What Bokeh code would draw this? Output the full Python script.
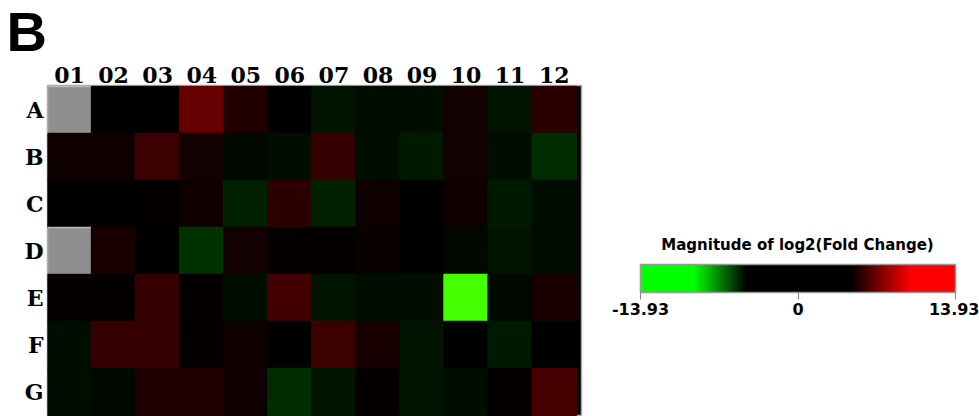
import numpy as np
from bokeh.plotting import figure
from bokeh.models import (ColumnDataSource, LinearColorMapper, ColorBar, FixedTicker,
                          Range1d, Label, CustomJSTickFormatter)
from bokeh.layouts import row, column
from bokeh.embed import file_html
from bokeh.resources import INLINE

# ---------------- data ----------------
columns = ["01", "02", "03", "04", "05", "06", "07", "08", "09", "10", "11", "12"]
rows = ["A", "B", "C", "D", "E", "F", "G"]
nan = float("nan")
row_A = [nan, 0.5, 0.8, 6.85, 5.39, 0.3, -4.96, -4.89, -4.89, 5.04, -4.97, 5.49]
row_B = [4.98, 4.98, 5.88, 5.04, -4.77, -4.89, 5.84, -4.81, -5.06, 5.11, -4.87, -5.40]
row_C = [1.2, 1.5, 4.77, 4.90, -5.17, 5.62, -5.17, 4.94, 0.4, 4.94, -5.10, -4.87]
row_D = [nan, 5.20, 0.2, -5.50, 5.11, 4.70, 4.77, 4.87, 0.6, -4.74, -4.92, -4.81]
row_E = [4.70, 4.70, 5.84, 4.70, -4.89, 6.05, -4.96, -4.81, -4.85, -13.93, -4.74, 5.20]
row_F = [-4.83, 5.84, 5.84, 4.70, 4.98, 1.0, 5.88, 5.16, -4.92, -4.65, -5.10, 0.3]
row_G = [-4.85, -4.77, 5.28, 5.28, 4.94, -5.40, -4.92, 4.70, -4.99, -4.85, 4.70, 6.17]
row_values = [row_A, row_B, row_C, row_D, row_E, row_F, row_G]
scale_low, scale_high = -13.93, 13.93
scale_ticks = [-13.93, 0, 13.93]
scale_title = "Magnitude of log2(Fold Change)"
panel_label = "B"

# ---------------- palette (green - black - red) ----------------
N = 256
palette = []
for i in range(N):
    t = (i + 0.5) / N
    ir = min(max((t - 0.667) / (0.86 - 0.667), 0), 1)
    ig = min(max((0.335 - t) / (0.335 - 0.17), 0), 1)
    palette.append("#%02x%02x%02x" % (int(round(255 * ir)), int(round(255 * ig)), 0))
palette[0] = "#44ff00"

xs, ys, vs = [], [], []
for ri, vals in enumerate(row_values):
    for ci, v in enumerate(vals):
        xs.append(ci)
        ys.append(len(rows) - 1 - ri)
        vs.append(v)
source = ColumnDataSource(dict(x=xs, y=ys, v=np.array(vs, dtype=float)))

fill_mapper = LinearColorMapper(palette=palette, low=scale_low, high=scale_high, nan_color="#8e8e8e")
line_mapper = LinearColorMapper(palette=palette, low=scale_low, high=scale_high, nan_color="#b9b9b9")

# ---------------- panel letter strip ----------------
W = 979
H = 416
strip_h = 60
s = figure(width=W, height=strip_h, output_backend="svg", toolbar_location=None,
           x_range=Range1d(0, 1), y_range=Range1d(0, 1),
           x_axis_type=None, y_axis_type=None, min_border=0)
s.frame_align = False
s.grid.visible = False
s.outline_line_color = None
s.add_layout(Label(x=6, y=29, x_units="screen", y_units="screen", text=panel_label,
                   text_font="Liberation Sans", text_font_style="bold",
                   text_font_size="56px", text_baseline="alphabetic", text_color="black"))

# ---------------- heatmap figure ----------------
top = 85 - strip_h
row_h = 47.0
hm_h = H - strip_h
frame_h = hm_h - top
y_end = len(rows) - 0.5 + 1 / row_h
y_start = y_end - frame_h / row_h

p = figure(width=598, height=hm_h, output_backend="svg", toolbar_location=None,
           x_range=Range1d(-0.5, 11.62), y_range=Range1d(y_start, y_end),
           x_axis_location="above", min_border_left=47, min_border_right=17,
           min_border_top=top, min_border_bottom=0)
p.frame_align = False
p.background_fill_color = "black"
p.border_fill_color = "white"
p.outline_line_color = "#aaaaaa"
p.outline_line_width = 1.5
p.grid.visible = False

p.rect(x="x", y="y", width=1, height=1, source=source,
       fill_color={"field": "v", "transform": fill_mapper},
       line_color={"field": "v", "transform": line_mapper}, line_width=1.5)

xa = p.xaxis[0]
xa.ticker = FixedTicker(ticks=list(range(len(columns))))
xa.major_label_overrides = {i: c for i, c in enumerate(columns)}
ya = p.yaxis[0]
ya.ticker = FixedTicker(ticks=list(range(len(rows))))
ya.major_label_overrides = {len(rows) - 1 - i: r for i, r in enumerate(rows)}
for ax in (xa, ya):
    ax.axis_line_color = None
    ax.major_tick_line_color = None
    ax.minor_tick_line_color = None
    ax.major_tick_out = 0
    ax.major_tick_in = 0
    ax.minor_tick_out = 0
    ax.minor_tick_in = 0
    ax.major_label_text_font = "DejaVu Serif"
    ax.major_label_text_font_style = "bold"
    ax.major_label_text_font_size = "22px"
    ax.major_label_text_color = "black"
xa.major_label_standoff = 3
ya.major_label_standoff = 4

# ---------------- colour scale figure ----------------
q = figure(width=W - 598, height=hm_h, output_backend="svg", toolbar_location=None,
           x_range=Range1d(0, 1), y_range=Range1d(0, 1),
           x_axis_type=None, y_axis_type=None, min_border=0)
q.frame_align = False
q.grid.visible = False
q.outline_line_color = None

cb = ColorBar(color_mapper=fill_mapper, orientation="horizontal", width=315, height=28,
              padding=0, location=(42, 99),
              ticker=FixedTicker(ticks=scale_ticks),
              formatter=CustomJSTickFormatter(code="return tick == 0 ? '0' : tick.toFixed(2);"),
              major_label_text_font="DejaVu Sans", major_label_text_font_style="bold",
              major_label_text_font_size="16px", major_label_text_color="black",
              major_tick_line_color="#888888", major_tick_in=0, major_tick_out=7,
              minor_tick_line_color=None, bar_line_color="#999999", bar_line_width=1.5,
              label_standoff=3, background_fill_color=None, border_line_color=None)
q.add_layout(cb, "center")
q.add_layout(Label(x=199, y=172, x_units="screen", y_units="screen", text=scale_title,
                   text_align="center", text_baseline="middle",
                   text_font="DejaVu Sans", text_font_style="bold",
                   text_font_size="15px", text_color="black"))

layout = column(s, row(p, q))
open("out.html", "w").write(file_html(layout, INLINE))
